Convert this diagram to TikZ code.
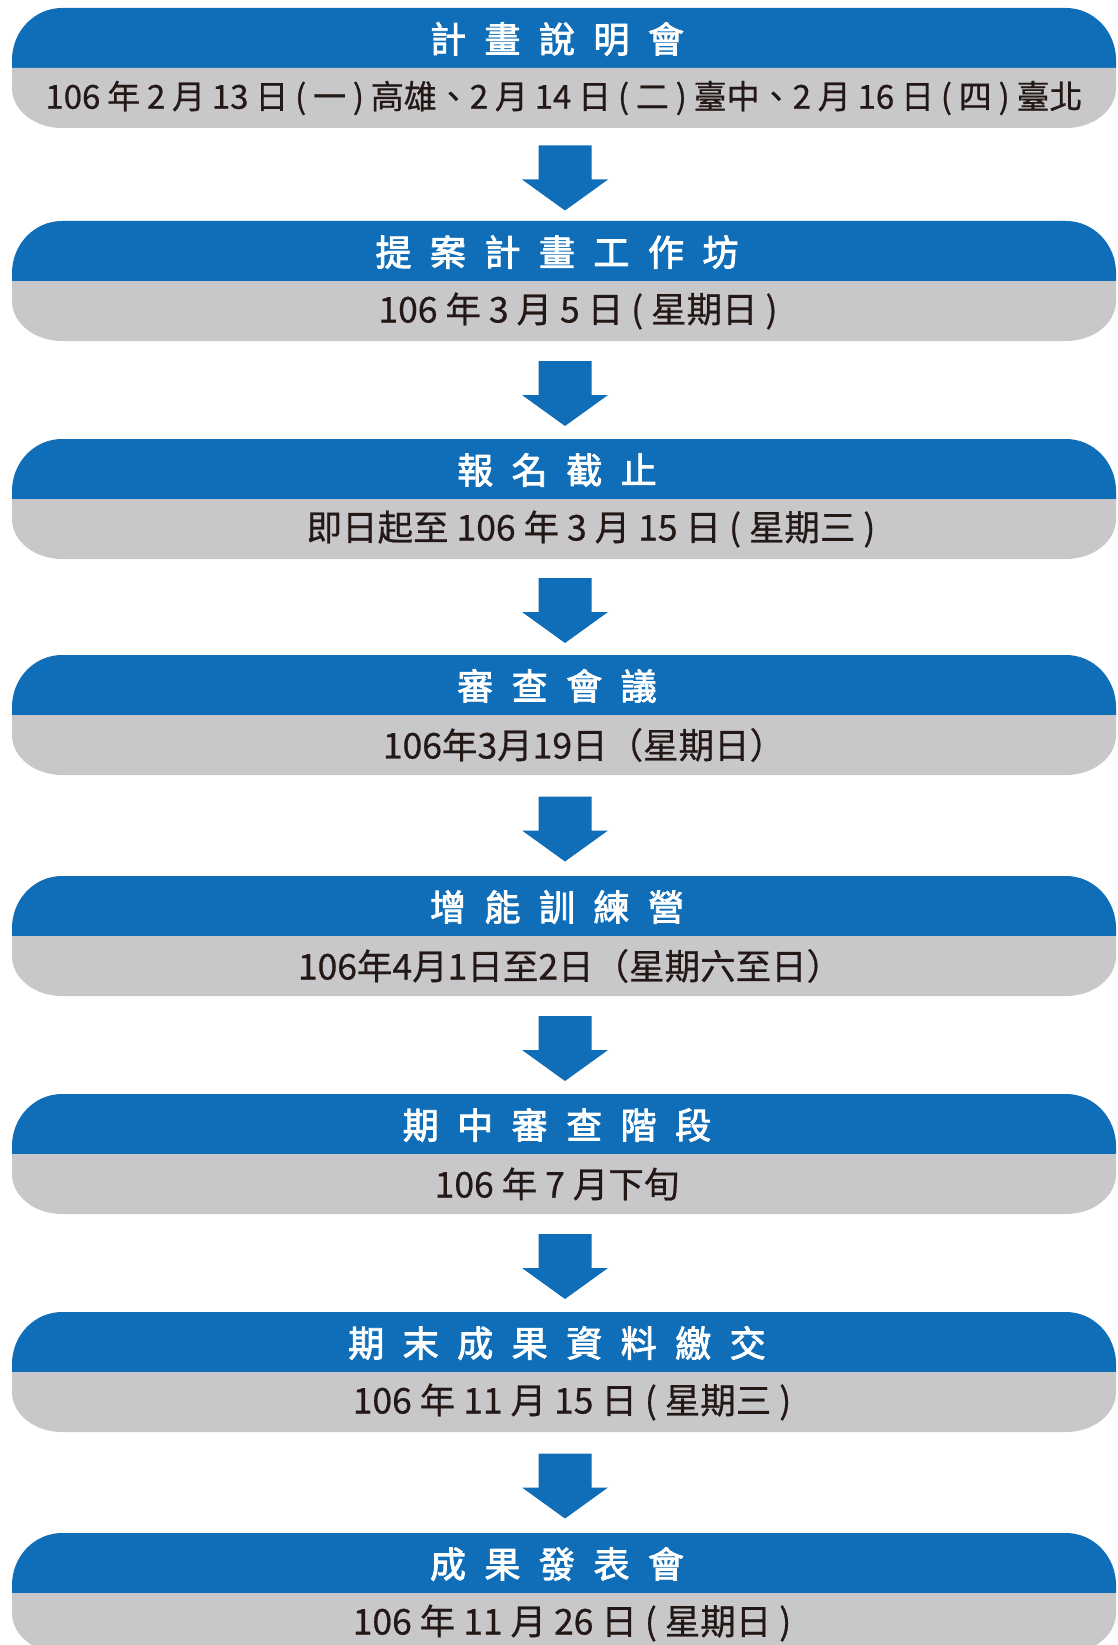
\documentclass[tikz,border=0pt]{standalone}
\usepackage{fontspec}
\setmainfont{Noto Sans CJK TC}
\newfontfamily\titlefont{Noto Sans CJK TC}[FakeBold=2.4]
\newfontfamily\subfont{Noto Sans CJK TC}[FakeBold=0.6]
\usetikzlibrary{calc}
\definecolor{bblue}{HTML}{106EB8}
\definecolor{bgray}{HTML}{C8C8CB}
\definecolor{ink}{HTML}{231815}
\newcommand\tg{\hspace{18.5pt}}
\newcommand\flowstage[5]{%
  \pgfmathsetmacro\ya{-#2}%
  \pgfmathsetmacro\yb{-#2-60}%
  \pgfmathsetmacro\yc{-#2-120}%
  \pgfmathsetmacro\ytop{-#2-52}%
  \pgfmathsetmacro\ybot{-#2-80}%
  \fill[bblue] (12,\yb) -- (12,\ytop) arc[start angle=180,end angle=90,x radius=50,y radius=52]
     -- (1066,\ya) arc[start angle=90,end angle=0,x radius=50,y radius=52] -- (1116,\yb) -- cycle;
  \fill[bgray] (12,\yb) -- (12,\ybot) arc[start angle=180,end angle=270,x radius=50,y radius=40]
     -- (1066,\yc) arc[start angle=270,end angle=360,x radius=50,y radius=40] -- (1116,\yb) -- cycle;
  \node[boxarea] (b#1) at (564,{-#2-60}) {};
  \node[titletext] (t#1) at (557,{-#2-31}) {#3};
  \node[subtext] (s#1) at (#5,{-#2-90}) {#4};
}
\begin{document}
\begin{tikzpicture}[x=1pt,y=1pt,
  titletext/.style={text=white, font=\titlefont\fontsize{36}{40}\selectfont, inner sep=0pt},
  subtext/.style={text=ink, font=\subfont\fontsize{35.5}{40}\selectfont, inner sep=0pt},
  boxarea/.style={minimum width=1104pt, minimum height=120pt, inner sep=0pt, draw=none},
  blockarrow/.style={fill=bblue, draw=none}]
\fill[white] (0,0) rectangle (1117,-1645);
\useasboundingbox (0,0) rectangle (1117,-1645);

\flowstage{1}{8}{計\tg 畫\tg 說\tg 明\tg 會}{\fontsize{33}{38}\selectfont\spaceskip=6.8pt 106 年 2 月 13 日 ( 一 ) 高雄、2 月 14 日 ( 二 ) 臺中、2 月 16 日 ( 四 ) 臺北}{564}
\flowstage{2}{221}{提\tg 案\tg 計\tg 畫\tg 工\tg 作\tg 坊}{106 年 3 月 5 日 ( 星期日 )}{578}
\flowstage{3}{439}{報\tg 名\tg 截\tg 止}{即日起至 106 年 3 月 15 日 ( 星期三 )}{591}
\flowstage{4}{655}{審\tg 查\tg 會\tg 議}{106年3月19日（星期日）}{584}
\flowstage{5}{876}{增\tg 能\tg 訓\tg 練\tg 營}{106年4月1日至2日（星期六至日）}{570}
\flowstage{6}{1094}{期\tg 中\tg 審\tg 查\tg 階\tg 段}{106 年 7 月下旬}{557}
\flowstage{7}{1312}{期\tg 末\tg 成\tg 果\tg 資\tg 料\tg 繳\tg 交}{106 年 11 月 15 日 ( 星期三 )}{572}
\flowstage{8}{1533}{成\tg 果\tg 發\tg 表\tg 會}{106 年 11 月 26 日 ( 星期日 )}{572}

\foreach \a/\b in {1/2,2/3,3/4,4/5,5/6,6/7,7/8} {
  \coordinate (m\a) at ($(b\a.south)!0.5!(b\b.north)+(1,0)$);
  \fill[blockarrow] ($(m\a)+(-26.5,29)$) -- ($(m\a)+(26.5,29)$) -- ($(m\a)+(26.5,-5)$)
    -- ($(m\a)+(43,-5)$) -- ($(m\a)+(0,-36)$) -- ($(m\a)+(-43,-5)$) -- ($(m\a)+(-26.5,-5)$) -- cycle;
}
\end{tikzpicture}
\end{document}
